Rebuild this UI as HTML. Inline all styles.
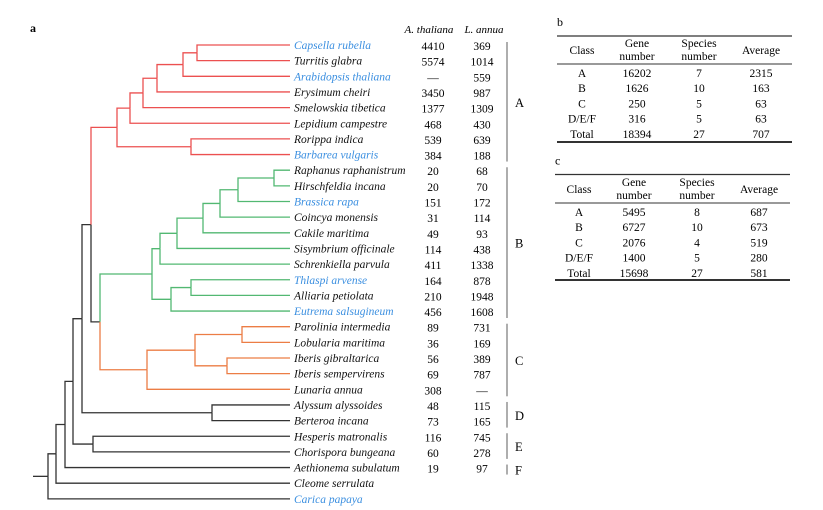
<!DOCTYPE html>
<html><head><meta charset="utf-8"><style>
body{margin:0;background:#fff;}
svg{display:block;font-family:"Liberation Serif",serif;}
</style></head><body>
<svg id="fig" width="823" height="510" viewBox="0 0 823 510">
<text x="30" y="32" font-size="12" font-weight="bold">a</text>
<text x="429" y="33" font-size="11" font-style="italic" text-anchor="middle">A. thaliana</text>
<text x="484" y="33" font-size="11" font-style="italic" text-anchor="middle">L. annua</text>
<g id="tree"></g>
<g id="leaves"></g>
<g id="clades"></g>
<g id="tables"></g>
</svg>
<script>
const leafNames=["Capsella rubella","Turritis glabra","Arabidopsis thaliana","Erysimum cheiri","Smelowskia tibetica","Lepidium campestre","Rorippa indica","Barbarea vulgaris","Raphanus raphanistrum","Hirschfeldia incana","Brassica rapa","Coincya monensis","Cakile maritima","Sisymbrium officinale","Schrenkiella parvula","Thlaspi arvense","Alliaria petiolata","Eutrema salsugineum","Parolinia intermedia","Lobularia maritima","Iberis gibraltarica","Iberis sempervirens","Lunaria annua","Alyssum alyssoides","Berteroa incana","Hesperis matronalis","Chorispora bungeana","Aethionema subulatum","Cleome serrulata","Carica papaya"];
const blueLeaves=[0,2,7,10,15,17,29];
const athValues=["4410","5574","—","3450","1377","468","539","384","20","20","151","31","49","114","411","164","210","456","89","36","56","69","308","48","73","116","60","19","",""];
const lanValues=["369","1014","559","987","1309","430","639","188","68","70","172","114","93","438","1338","878","1948","1608","731","169","389","787","—","115","165","745","278","97","",""];
const cladeNames=["A","B","C","D","E","F"];
const cladeFirst=[0,8,18,23,25,27];
const cladeLast=[7,17,22,24,26,27];
const tableBRows=[["A","16202","7","2315"],["B","1626","10","163"],["C","250","5","63"],["D/E/F","316","5","63"],["Total","18394","27","707"]];
const tableCRows=[["A","5495","8","687"],["B","6727","10","673"],["C","2076","4","519"],["D/E/F","1400","5","280"],["Total","15698","27","581"]];

const NS="http://www.w3.org/2000/svg";
const leafY=i=>45+i*15.65;
const LEAF_X=290;
const COL={A:"#ec5050",B:"#52b872",C:"#ec7d45",K:"#333"};
const N=(x,c,...ch)=>({x,c,ch});
const cladeA=N(117,"A",N(130,"A",N(143,"A",N(157,"A",N(183,"A",N(197,"A",0,1),2),3),4),5),N(191,"A",6,7));
const cladeB=N(152,"B",N(160,"B",N(177,"B",N(203,"B",N(220,"B",N(238,"B",N(274,"B",8,9),10),11),12),13),14),N(171,"B",N(191,"B",15,16),17));
const cladeC=N(147,"C",N(195,"C",N(242,"C",18,19),N(227,"C",20,21)),22);
const tree=N(48,"K",N(56,"K",N(65,"K",N(73,"K",N(82,"K",N(91,"K",cladeA,N(100,"K",cladeB,cladeC)),N(212,"K",23,24)),N(93,"K",25,26)),27),28),29);
const leafColor=i=>i<8?"A":i<18?"B":i<23?"C":"K";
const tg=document.getElementById('tree');
function yOf(n){return typeof n==="number"?leafY(n):(yOf(n.ch[0])+yOf(n.ch[n.ch.length-1]))/2;}
function draw(n){
  const py=yOf(n);
  n.ch.forEach(ch=>{
    const cy=yOf(ch), cx=typeof ch==="number"?LEAF_X:ch.x, col=COL[typeof ch==="number"?leafColor(ch):ch.c];
    const p=document.createElementNS(NS,'path');
    p.setAttribute('d',`M${n.x},${py}V${cy}H${cx}`);
    p.setAttribute('fill','none');p.setAttribute('stroke',col);p.setAttribute('stroke-width','1.3');
    
    
    tg.appendChild(p);
    if(typeof ch!=="number")draw(ch);
  });
}
draw(tree);
const root=document.createElementNS(NS,'path');
root.setAttribute('d',`M33,${yOf(tree)}H48`);root.setAttribute('stroke','#333');root.setAttribute('stroke-width','1.3');


tg.appendChild(root);

const lg=document.getElementById('leaves');
function txt(g,x,y,s,opts){const t=document.createElementNS(NS,'text');t.setAttribute('x',x);t.setAttribute('y',y);t.textContent=s;for(const k in opts)t.setAttribute(k,opts[k]);g.appendChild(t);return t;}
leafNames.forEach((nm,i)=>{
  const y=leafY(i)+4;
  const t=txt(lg,294,y,nm,{'font-size':'11.5','font-style':'italic',fill:blueLeaves.includes(i)?'#3b8fe0':'#111'});
  
  
  if(athValues[i]){const a=txt(lg,433,y+1,athValues[i],{'font-size':'11.5','text-anchor':'middle'});
    
    }
  if(lanValues[i]){const b=txt(lg,482,y+1,lanValues[i],{'font-size':'11.5','text-anchor':'middle'});
    
    }
});
const cg=document.getElementById('clades');
cladeNames.forEach((c,k)=>{
  const y1=leafY(cladeFirst[k])-3,y2=leafY(cladeLast[k])+7;
  const l=document.createElementNS(NS,'line');
  l.setAttribute('x1',507);l.setAttribute('x2',507);l.setAttribute('y1',y1);l.setAttribute('y2',y2);
  l.setAttribute('stroke','#777');l.setAttribute('stroke-width','1.2');
  
  
  cg.appendChild(l);
  const t=txt(cg,515,(y1+y2)/2+5,c,{'font-size':'12.5'});
  
  
});
const tb=document.getElementById('tables');
function table(label,x0,x1,top,hdrLine,rowY0,bottom,cols,rows){
  const l=txt(tb,x0,top-10,label,{'font-size':'12'});
  
  
  [[top,1.2],[hdrLine,1],[bottom,2]].forEach(([y,w])=>{
    const ln=document.createElementNS(NS,'line');
    ln.setAttribute('x1',x0);ln.setAttribute('x2',x1);ln.setAttribute('y1',y);ln.setAttribute('y2',y);
    ln.setAttribute('stroke','#333');ln.setAttribute('stroke-width',w);
    
    
    tb.appendChild(ln);
  });
  const hm=(top+hdrLine)/2;
  const h=[["Class"],["Gene","number"],["Species","number"],["Average"]];
  h.forEach((lines,j)=>{
    lines.forEach((s,m)=>{
      const yy=lines.length===1?hm+4:hm-3+m*13;
      const t=txt(tb,cols[j],yy,s,{'font-size':'11.5','text-anchor':'middle'});
      
      
    });
  });
  rows.forEach((r,i)=>r.forEach((s,j)=>{
    const t=txt(tb,cols[j],rowY0+i*15.2+4,s,{'font-size':'11.5','text-anchor':'middle'});
    
    
  }));
}
table("b",557,792,36,64,73,142,[582,637,699,761],tableBRows);
table("c",555,790,174.5,203,212,280,[579,634,697,759],tableCRows);
</script>
</body></html>
